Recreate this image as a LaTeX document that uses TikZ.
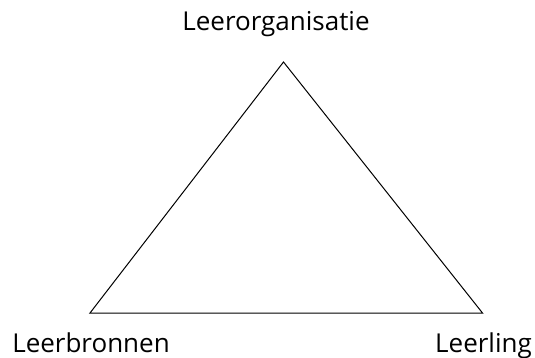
\documentclass[tikz,border=0pt]{standalone}
\usepackage{fontspec}
\setmainfont{Open Sans}
\usepackage{tikz}
\usetikzlibrary{positioning}
\tikzstyle{corner}=[font=\fontsize{26}{30}\selectfont,inner sep=0pt,anchor=base]
\tikzstyle{side}=[line width=1pt,line join=miter]

\begin{document}
\begin{tikzpicture}[x=1pt,y=-1pt]
      \useasboundingbox (0,0) rectangle (535,358);
      \coordinate (top) at (283.5,62);
      \coordinate (left) at (90,313);
      \coordinate (right) at (482.5,313);

      \node[corner] (org) at (276,31) {Leerorganisatie};
      \node[corner] (bron) at (91,352) {Leerbronnen};
      \node[corner] (lln) at (483.5,352) {Leerling};

      \draw[side] (top)--(left)--(right)--cycle;
    \end{tikzpicture}
\end{document}
